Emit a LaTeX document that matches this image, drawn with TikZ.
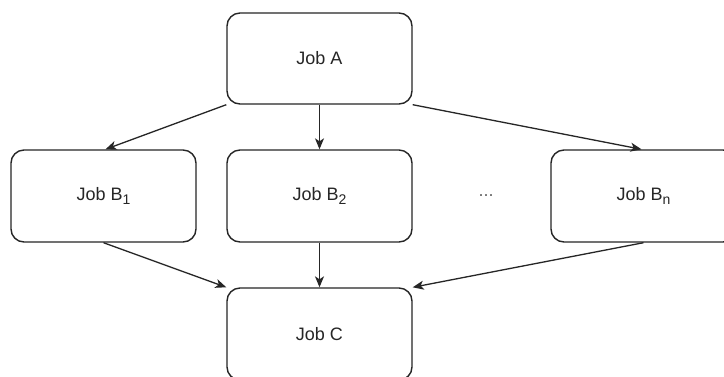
\documentclass[tikz,border=0pt]{standalone}
\usepackage{fontspec}
\setmainfont{Liberation Sans}
\usetikzlibrary{arrows.meta}
\newcommand{\jobsub}[1]{\raisebox{-4.5pt}{\fontsize{14}{16}\selectfont #1}}
\begin{document}
\begin{tikzpicture}[x=1pt,y=-1pt,
  job/.style={draw=black!85, line width=1.4pt, rounded corners=13pt, minimum width=185pt, minimum height=92pt, inner sep=0pt, font=\fontsize{18}{20}\selectfont, text=black!85},
  conn/.style={draw=black!85, line width=1.3pt, -{Stealth[length=11pt,width=9pt,inset=3pt]}},
  txt/.style={font=\fontsize{18}{20}\selectfont, text=black!60, inner sep=0pt}]
\useasboundingbox (0,0) rectangle (724,376);
\clip (0,0) rectangle (724,376);
\fill[white] (0,0) rectangle (724,376);
\node[job, minimum height=91pt] (A) at (319.5,58.5) {Job A};
\node[job] (B1) at (103.5,196) {Job B\jobsub{1}};
\node[job] (B2) at (319.5,196) {Job B\jobsub{2}};
\node[job] (Bn) at (643.5,196) {Job B\jobsub{n}};
\node[txt] (dots) at (486,196) {...};
\node[job] (C) at (319.5,334) {Job C};
\draw[conn] (A.south west) -- ([xshift=2pt]B1.north);
\draw[conn] (A.south) -- (B2.north);
\draw[conn] (A.south east) -- ([xshift=-2pt]Bn.north);
\draw[conn] (B1.south) -- (C.north west);
\draw[conn] (B2.south) -- (C.north);
\draw[conn] (Bn.south) -- (C.north east);
\end{tikzpicture}
\end{document}
